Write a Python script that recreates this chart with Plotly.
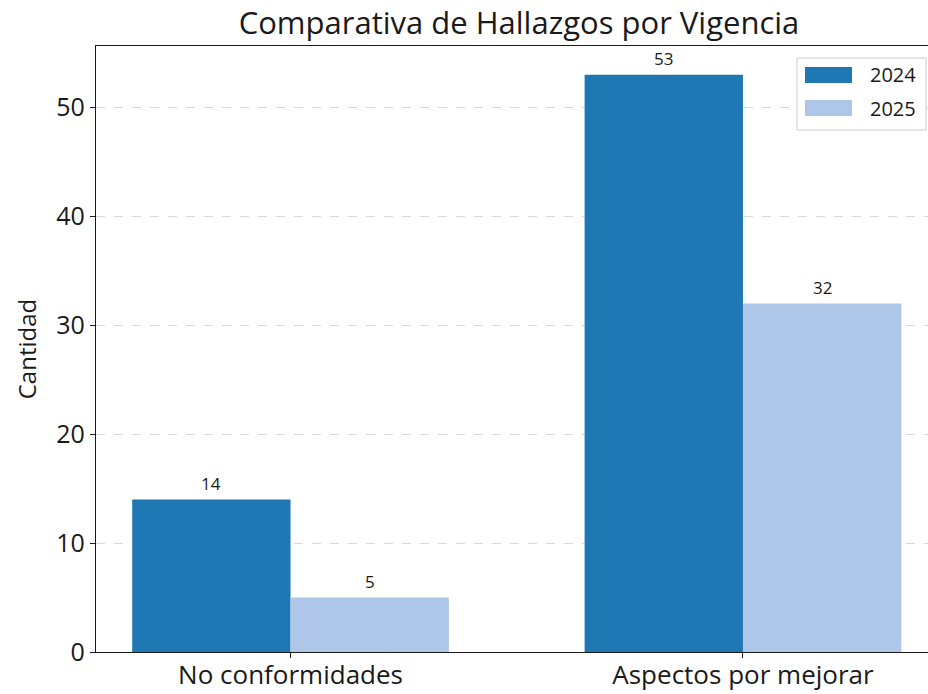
import plotly.graph_objects as go

categories = ["No conformidades", "Aspectos por mejorar"]
series_names = ["2024", "2025"]
values_2024 = [14, 53]
values_2025 = [5, 32]
y_ticks = [0, 10, 20, 30, 40, 50]

colors = ["#1f77b4", "#aec7e8"]
bar_w = 0.35
xpos = list(range(len(categories)))
font = "Open Sans"
ink = "#1a1a1a"

W, H = 928, 694
L, R, T, B = 96, 0, 46, 42
pw, ph = W - L - R, H - T - B


def px(p):
    return (p - L) / pw


def py(q):
    return (H - B - q) / ph


fig = go.Figure()
for name, vals, col, off in [(series_names[0], values_2024, colors[0], -bar_w),
                             (series_names[1], values_2025, colors[1], 0.0)]:
    fig.add_trace(go.Bar(x=xpos, y=vals, name=name, width=bar_w, offset=off,
                         showlegend=False,
                         marker=dict(color=col, line=dict(width=0))))
    for xi, v in zip(xpos, vals):
        fig.add_annotation(x=xi + off + bar_w / 2, y=v, text=str(v), showarrow=False,
                           yanchor="bottom", yshift=3,
                           font=dict(family=font, size=17, color=ink))

# legend drawn as a matplotlib-style box with wide patches
fig.add_shape(type="rect", xref="paper", yref="paper",
              x0=px(797), x1=px(926), y0=py(130), y1=py(58),
              line=dict(color="#cccccc", width=1), fillcolor="white", layer="above")
for i, (name, col) in enumerate(zip(series_names, colors)):
    top = 67 + i * 33
    fig.add_shape(type="rect", xref="paper", yref="paper",
                  x0=px(805), x1=px(852), y0=py(top + 16), y1=py(top),
                  line=dict(width=0), fillcolor=col, layer="above")
    fig.add_annotation(xref="paper", yref="paper", x=px(868), y=py(top + 8),
                       xanchor="left", yanchor="middle", text=name, showarrow=False,
                       font=dict(family=font, size=20, color=ink))

fig.update_layout(
    width=W, height=H,
    margin=dict(l=L, r=R, t=T, b=B, autoexpand=False),
    plot_bgcolor="white", paper_bgcolor="white",
    title=dict(text="Comparativa de Hallazgos por Vigencia", x=519 / W, xref="container",
               xanchor="center", y=1 - 23 / H, yanchor="middle",
               font=dict(family=font, size=31, color=ink)),
    barmode="overlay",
    showlegend=False,
    font=dict(family=font, color=ink),
)
fig.update_xaxes(range=[-0.43, 1.409], tickvals=xpos, ticktext=categories,
                 showline=True, linecolor=ink, linewidth=1.3, mirror=True,
                 ticks="outside", ticklen=5, tickcolor=ink,
                 ticklabelstandoff=-5,
                 showgrid=False, zeroline=False,
                 tickfont=dict(family=font, size=26, color=ink))
fig.update_yaxes(range=[0, 55.65], tickvals=y_ticks,
                 showline=True, linecolor=ink, linewidth=1.3,
                 ticks="outside", ticklen=5, tickcolor=ink,
                 showgrid=True, gridcolor="#d9d9d9", griddash="dash", gridwidth=1,
                 zeroline=False,
                 tickfont=dict(family=font, size=25, color=ink),
                 title=dict(text="Cantidad", standoff=12,
                            font=dict(family=font, size=24, color=ink)))

fig.write_html("out.html", config={"displayModeBar": False},
               post_script="document.body.style.margin='0';document.body.style.overflow='hidden';")
